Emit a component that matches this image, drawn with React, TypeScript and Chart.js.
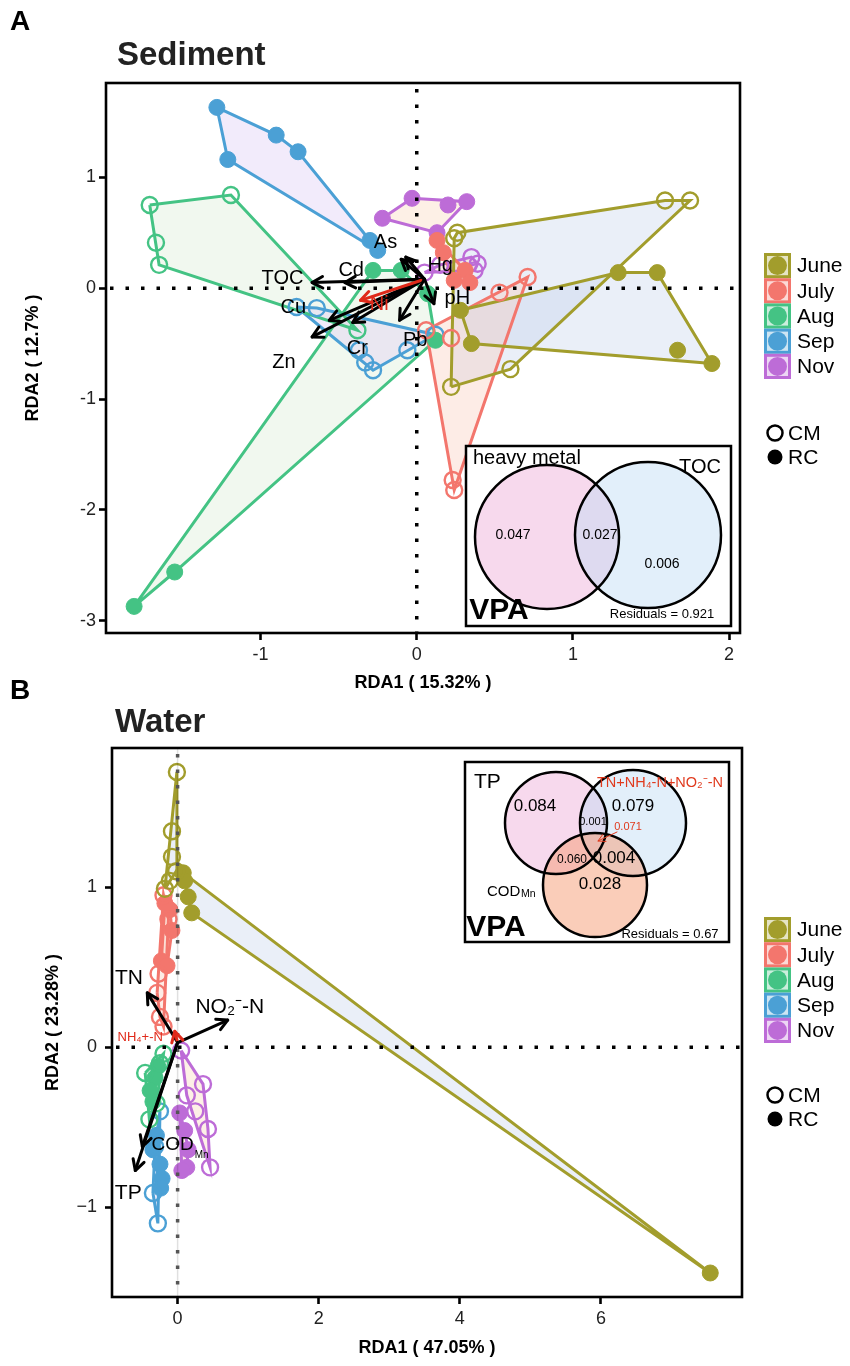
import React, { useEffect, useRef } from "react";
import { Chart, registerables } from "chart.js";

Chart.register(...registerables);

const FONT = "'Liberation Sans', Arial, Helvetica, sans-serif";

// ---------------- shared legend data ----------------
const months = ["June", "July", "Aug", "Sep", "Nov"];
const monthColors = ["#A29D2C", "#F3766D", "#44C384", "#4BA0D5", "#BD6CD7"];
const hullFills = [
  "rgba(196,210,236,0.35)",
  "rgba(250,200,182,0.35)",
  "rgba(214,236,210,0.35)",
  "rgba(222,206,246,0.40)",
  "rgba(250,222,200,0.45)",
];
const siteTypes = ["CM", "RC"];

// ---------------- A: Sediment ----------------
const sedXTicks = [-1, 0, 1, 2];
const sedYTicks = [-3, -2, -1, 0, 1];
const sedJuneCM = [[0.26, 0.5], [0.24, 0.45], [1.59, 0.79], [1.75, 0.79], [0.6, -0.73], [0.22, -0.89]];
const sedJuneRC = [[0.28, -0.2], [1.29, 0.14], [1.54, 0.14], [1.67, -0.56], [1.89, -0.68], [0.35, -0.5]];
const sedJulyCM = [[0.71, 0.1], [0.53, -0.04], [0.22, -0.45], [0.23, -1.73], [0.24, -1.82], [0.06, -0.38]];
const sedJulyRC = [[0.13, 0.43], [0.17, 0.32], [0.31, 0.16], [0.34, 0.05], [0.24, 0.07]];
const sedAugCM = [[-1.71, 0.75], [-1.19, 0.84], [-1.67, 0.41], [-1.65, 0.21], [-0.38, -0.38]];
const sedAugRC = [[-1.81, -2.87], [-1.55, -2.56], [0.12, -0.47], [0.07, -0.05], [-0.1, 0.16], [-0.28, 0.16]];
const sedSepCM = [[-0.77, -0.17], [-0.64, -0.18], [-0.37, -0.56], [-0.33, -0.67], [-0.28, -0.74], [-0.06, -0.56], [0.12, -0.42]];
const sedSepRC = [[-1.28, 1.63], [-0.9, 1.38], [-0.76, 1.23], [-1.21, 1.16], [-0.3, 0.43], [-0.25, 0.34]];
const sedNovCM = [[0.05, 0.14], [0.35, 0.28], [0.39, 0.22], [0.37, 0.16], [0.15, 0.21]];
const sedNovRC = [[-0.22, 0.63], [-0.03, 0.81], [0.2, 0.75], [0.32, 0.78], [0.13, 0.5]];
const sedArrowNames = ["TOC", "Cd", "Cu", "Zn", "Cr", "Ni", "As", "Hg", "pH", "Pb"];
const sedArrowX = [-0.67, -0.46, -0.56, -0.67, -0.41, -0.36, -0.1, -0.07, 0.11, -0.11];
const sedArrowY = [0.05, 0.05, -0.29, -0.44, -0.31, -0.11, 0.26, 0.28, -0.14, -0.29];
const sedLabelX = [-0.86, -0.42, -0.79, -0.85, -0.38, -0.24, -0.2, 0.15, 0.26, -0.01];
const sedLabelY = [0.09, 0.16, -0.17, -0.67, -0.54, -0.15, 0.41, 0.2, -0.09, -0.47];
const sedArrowColors = ["#000", "#000", "#000", "#000", "#000", "#E02A1A", "#000", "#000", "#000", "#000"];
const sedLabelSizes = [20, 20, 20, 20, 20, 20, 20, 20, 20, 20];
const sedArrowOrigin = [0.05, 0.08];

// ---------------- B: Water ----------------
const watXTicks = [0, 2, 4, 6];
const watYTicks = [-1, 0, 1];
const watJuneCM = [[-0.01, 1.72], [-0.08, 1.35], [-0.08, 1.19], [-0.11, 1.04], [-0.18, 0.99], [-0.02, 1.1]];
const watJuneRC = [[0.08, 1.09], [0.1, 1.04], [0.15, 0.94], [0.2, 0.84], [7.55, -1.41]];
const watJulyCM = [[-0.2, 0.95], [-0.13, 0.8], [-0.27, 0.46], [-0.29, 0.34], [-0.25, 0.19], [-0.2, 0.13]];
const watJulyRC = [[-0.18, 0.9], [-0.11, 0.86], [-0.08, 0.73], [-0.23, 0.54], [-0.15, 0.51]];
const watAugCM = [[-0.2, -0.04], [-0.46, -0.16], [-0.25, -0.1], [-0.3, -0.35], [-0.4, -0.45]];
const watAugRC = [[-0.28, -0.12], [-0.32, -0.19], [-0.39, -0.27], [-0.35, -0.34]];
const watSepCM = [[-0.25, -0.4], [-0.32, -0.62], [-0.35, -0.91], [-0.28, -1.1]];
const watSepRC = [[-0.3, -0.55], [-0.35, -0.64], [-0.25, -0.73], [-0.22, -0.82], [-0.24, -0.88]];
const watNovCM = [[0.05, -0.02], [0.36, -0.23], [0.13, -0.3], [0.25, -0.4], [0.43, -0.51], [0.46, -0.75]];
const watNovRC = [[0.03, -0.41], [0.1, -0.52], [0.15, -0.64], [0.13, -0.75], [0.06, -0.77]];
const watArrowNames = ["TN", "NO₂⁻-N", "NH₄+-N", "COD", "TP"];
const watArrowSub = ["", "", "", "Mn", ""];
const watArrowX = [-0.43, 0.71, -0.04, -0.5, -0.6];
const watArrowY = [0.34, 0.17, 0.1, -0.62, -0.77];
const watLabelX = [-0.69, 0.74, -0.53, -0.07, -0.7];
const watLabelY = [0.43, 0.25, 0.06, -0.61, -0.91];
const watArrowColors = ["#000", "#000", "#E02A1A", "#000", "#000"];
const watLabelSizes = [21, 21, 13, 19, 21];
const watArrowOrigin = [0, 0.03];

// ---------------- VPA values ----------------
const vpaSedLabels = ["heavy metal", "TOC"];
const vpaSedValues = ["0.047", "0.027", "0.006"];
const vpaSedResidual = "Residuals = 0.921";
const vpaWatLabels = ["TP", "TN+NH₄-N+NO₂⁻-N", "COD"];
const vpaWatValues = ["0.084", "0.079", "0.001", "0.071", "0.060", "0.004", "0.028"];
const vpaWatResidual = "Residuals = 0.67";

// ---------------- helpers ----------------
function convexHull(pts: number[][]) {
  const p = pts.slice().sort((a, b) => (a[0] === b[0] ? a[1] - b[1] : a[0] - b[0]));
  if (p.length < 3) return p;
  const cross = (o: number[], a: number[], b: number[]) =>
    (a[0] - o[0]) * (b[1] - o[1]) - (a[1] - o[1]) * (b[0] - o[0]);
  const lower: number[][] = [];
  for (const q of p) {
    while (lower.length >= 2 && cross(lower[lower.length - 2], lower[lower.length - 1], q) <= 0) lower.pop();
    lower.push(q);
  }
  const upper: number[][] = [];
  for (let i = p.length - 1; i >= 0; i--) {
    const q = p[i];
    while (upper.length >= 2 && cross(upper[upper.length - 2], upper[upper.length - 1], q) <= 0) upper.pop();
    upper.push(q);
  }
  upper.pop();
  lower.pop();
  return lower.concat(upper);
}

function buildDatasets(cm: number[][][], rc: number[][][]) {
  const ds: any[] = [];
  months.forEach((m, i) => {
    [cm[i], rc[i]].forEach((pts, k) => {
      const hull = convexHull(pts);
      ds.push({
        type: "scatter",
        label: `${m} ${siteTypes[k]} hull`,
        data: [...hull, hull[0]].map(([x, y]) => ({ x, y })),
        showLine: true,
        borderColor: monthColors[i],
        borderWidth: 3,
        pointRadius: 0,
        pointHoverRadius: 0,
        fill: false,
        order: 2,
        hullFill: hullFills[i],
      });
      ds.push({
        type: "scatter",
        label: `${m} ${siteTypes[k]}`,
        data: pts.map(([x, y]) => ({ x, y })),
        pointRadius: 8,
        pointHoverRadius: 8,
        pointBorderWidth: k === 0 ? 2.4 : 1,
        borderColor: monthColors[i],
        backgroundColor: k === 0 ? "rgba(255,255,255,0)" : monthColors[i],
        showLine: false,
        order: 1,
      });
    });
  });
  return ds;
}

function drawArrow(ctx: CanvasRenderingContext2D, x0: number, y0: number, x1: number, y1: number, color: string, lw: number) {
  ctx.save();
  ctx.strokeStyle = color;
  ctx.lineWidth = lw;
  ctx.lineCap = "round";
  ctx.lineJoin = "round";
  ctx.beginPath();
  ctx.moveTo(x0, y0);
  ctx.lineTo(x1, y1);
  ctx.stroke();
  const a = Math.atan2(y1 - y0, x1 - x0);
  const h = lw > 2 ? 12 : 8;
  ctx.beginPath();
  ctx.moveTo(x1 - h * Math.cos(a - 0.5), y1 - h * Math.sin(a - 0.5));
  ctx.lineTo(x1, y1);
  ctx.lineTo(x1 - h * Math.cos(a + 0.5), y1 - h * Math.sin(a + 0.5));
  ctx.stroke();
  ctx.restore();
}

function text(ctx: CanvasRenderingContext2D, s: string, x: number, y: number, size: number, opts: any = {}) {
  ctx.save();
  ctx.font = `${opts.bold ? "bold " : ""}${size}px ${FONT}`;
  ctx.fillStyle = opts.color || "#000";
  ctx.textAlign = opts.align || "center";
  ctx.textBaseline = "middle";
  ctx.fillText(s, x, y);
  ctx.restore();
}

function drawLegend(ctx: CanvasRenderingContext2D, top: number, cmY: number) {
  const x0 = 764;
  const w = 27;
  const h = 25.2;
  months.forEach((m, i) => {
    const y = top + i * h;
    ctx.save();
    ctx.fillStyle = monthColors[i];
    ctx.fillRect(x0, y, w, h);
    ctx.fillStyle = "rgba(255,255,255,0.72)";
    ctx.fillRect(x0 + 3, y + 3, w - 6, h - 6);
    ctx.fillStyle = monthColors[i];
    ctx.beginPath();
    ctx.arc(x0 + w / 2, y + h / 2, 9.5, 0, Math.PI * 2);
    ctx.fill();
    ctx.restore();
    text(ctx, m, 797, y + h / 2 + 1, 21, { align: "left" });
  });
  siteTypes.forEach((s, k) => {
    const y = cmY + k * 24;
    ctx.save();
    ctx.beginPath();
    ctx.arc(775, y, 7.5, 0, Math.PI * 2);
    if (k === 0) {
      ctx.strokeStyle = "#000";
      ctx.lineWidth = 2.5;
      ctx.stroke();
    } else {
      ctx.fillStyle = "#000";
      ctx.fill();
    }
    ctx.restore();
    text(ctx, s, 788, y + 1, 21, { align: "left" });
  });
}

function circle(ctx: CanvasRenderingContext2D, x: number, y: number, r: number, fill: string | null) {
  ctx.beginPath();
  ctx.arc(x, y, r, 0, Math.PI * 2);
  if (fill) {
    ctx.fillStyle = fill;
    ctx.fill();
  }
}

function drawVennSed(ctx: CanvasRenderingContext2D) {
  ctx.save();
  ctx.fillStyle = "#fff";
  ctx.fillRect(466, 446, 265, 180);
  circle(ctx, 547, 537, 72, "rgba(240,180,220,0.5)");
  circle(ctx, 648, 535, 73, "rgba(190,220,245,0.45)");
  ctx.strokeStyle = "#000";
  ctx.lineWidth = 2.5;
  circle(ctx, 547, 537, 72, null);
  ctx.stroke();
  circle(ctx, 648, 535, 73, null);
  ctx.stroke();
  ctx.strokeRect(466, 446, 265, 180);
  ctx.restore();
  text(ctx, vpaSedLabels[0], 473, 458, 20, { align: "left" });
  text(ctx, vpaSedLabels[1], 700, 467, 20);
  text(ctx, vpaSedValues[0], 513, 535, 14);
  text(ctx, vpaSedValues[1], 600, 535, 14);
  text(ctx, vpaSedValues[2], 662, 564, 14);
  text(ctx, "VPA", 499, 611, 30, { bold: true });
  text(ctx, vpaSedResidual, 662, 614, 13);
}

function drawVennWat(ctx: CanvasRenderingContext2D, dy: number) {
  ctx.save();
  ctx.translate(0, -dy);
  ctx.fillStyle = "#fff";
  ctx.fillRect(465, 762, 264, 180);
  circle(ctx, 556, 823, 51, "rgba(240,180,220,0.5)");
  circle(ctx, 633, 823, 53, "rgba(190,220,245,0.45)");
  circle(ctx, 595, 885, 52, "rgba(245,155,115,0.5)");
  ctx.strokeStyle = "#000";
  ctx.lineWidth = 2.5;
  [[556, 823, 51], [633, 823, 53], [595, 885, 52]].forEach(([x, y, r]) => {
    circle(ctx, x, y, r, null);
    ctx.stroke();
  });
  ctx.strokeRect(465, 762, 264, 180);
  text(ctx, vpaWatLabels[0], 474, 782, 21, { align: "left" });
  text(ctx, vpaWatLabels[1], 660, 783, 14.5, { color: "#E03A1E" });
  text(ctx, vpaWatValues[0], 535, 806, 17);
  text(ctx, vpaWatValues[1], 633, 806, 17);
  text(ctx, vpaWatValues[2], 593, 822, 11);
  text(ctx, vpaWatValues[3], 628, 827, 11, { color: "#E03A1E" });
  drawArrow(ctx, 617, 832, 598, 841, "#E03A1E", 1);
  text(ctx, vpaWatValues[4], 572, 860, 12);
  text(ctx, vpaWatValues[5], 614, 858, 17);
  text(ctx, vpaWatValues[6], 600, 884, 17);
  text(ctx, vpaWatLabels[2], 487, 892, 15, { align: "left" });
  text(ctx, "Mn", 521, 894, 10.5, { align: "left" });
  text(ctx, "VPA", 496, 928, 30, { bold: true });
  text(ctx, vpaWatResidual, 670, 934, 13);
  ctx.restore();
}

function panelPlugin(opts: any) {
  return {
    id: "panel" + opts.letter,
    beforeDatasetsDraw(chart: any) {
      const { ctx, chartArea: ca } = chart;
      const xs = chart.scales.x;
      const ys = chart.scales.y;
      ctx.save();
      ctx.beginPath();
      ctx.rect(ca.left, ca.top, ca.right - ca.left, ca.bottom - ca.top);
      ctx.clip();
      chart.data.datasets.forEach((d: any) => {
        if (!d.hullFill) return;
        ctx.beginPath();
        d.data.forEach((p: any, i: number) => {
          const px = xs.getPixelForValue(p.x);
          const py = ys.getPixelForValue(p.y);
          if (i === 0) ctx.moveTo(px, py);
          else ctx.lineTo(px, py);
        });
        ctx.closePath();
        ctx.fillStyle = d.hullFill;
        ctx.fill();
      });
      ctx.restore();
    },
    afterDatasetsDraw(chart: any) {
      const { ctx, chartArea: ca } = chart;
      const xs = chart.scales.x;
      const ys = chart.scales.y;
      const x0 = xs.getPixelForValue(0);
      const y0 = ys.getPixelForValue(0);
      ctx.save();
      if (opts.vGray) {
        ctx.strokeStyle = "rgba(0,0,0,0.12)";
        ctx.lineWidth = 1.5;
        ctx.beginPath();
        ctx.moveTo(x0, ca.top);
        ctx.lineTo(x0, ca.bottom);
        ctx.stroke();
      }
      ctx.setLineDash([3.5, 12]);
      ctx.lineWidth = 3.5;
      ctx.strokeStyle = opts.vGray ? "#555" : "#000";
      ctx.beginPath();
      ctx.moveTo(x0, ca.top + 6);
      ctx.lineTo(x0, ca.bottom);
      ctx.stroke();
      ctx.strokeStyle = "#000";
      ctx.beginPath();
      ctx.moveTo(ca.left + 4, y0);
      ctx.lineTo(ca.right, y0);
      ctx.stroke();
      ctx.restore();
      // arrows
      const ox = xs.getPixelForValue(opts.origin[0]);
      const oy = ys.getPixelForValue(opts.origin[1]);
      opts.arrowX.forEach((ax: number, i: number) => {
        drawArrow(ctx, ox, oy, xs.getPixelForValue(ax), ys.getPixelForValue(opts.arrowY[i]), opts.arrowColors[i], 3);
      });
      opts.names.forEach((n: string, i: number) => {
        const lx = xs.getPixelForValue(opts.labelX[i]);
        const ly = ys.getPixelForValue(opts.labelY[i]);
        const size = opts.labelSizes[i];
        text(ctx, n, lx, ly, size, { color: opts.arrowColors[i] });
        if (opts.subs && opts.subs[i]) {
          ctx.save();
          ctx.font = `${size}px ${FONT}`;
          const w = ctx.measureText(n).width;
          ctx.restore();
          text(ctx, opts.subs[i], lx + w / 2 + 1, ly + 10, 10, { align: "left", color: opts.arrowColors[i] });
        }
      });
    },
    afterDraw(chart: any) {
      const { ctx, chartArea: ca } = chart;
      ctx.save();
      ctx.strokeStyle = "#000";
      ctx.lineWidth = 2.6;
      ctx.strokeRect(ca.left, ca.top, ca.right - ca.left, ca.bottom - ca.top);
      ctx.restore();
      text(ctx, opts.letter, 20, opts.letterY, 28, { bold: true });
      text(ctx, opts.title, opts.titleX, opts.titleY, 33, { bold: true, align: "left", color: "#222" });
      drawLegend(ctx, opts.legendTop, opts.cmY);
      opts.venn(ctx);
    },
  };
}

function makeConfig(p: any) {
  const tickFmt = (v: number) => (v < 0 ? p.minus + Math.abs(v) : String(v));
  const axisCommon = {
    type: "linear",
    border: { display: false },
    grid: {
      display: true,
      drawOnChartArea: false,
      drawTicks: true,
      tickLength: 7,
      tickWidth: 2.6,
      color: "#000",
      tickColor: "#000",
    },
  };
  return {
    type: "scatter",
    data: { datasets: buildDatasets(p.cm, p.rc) },
    options: {
      animation: false,
      responsive: false,
      events: [],
      layout: { padding: { top: p.padTop, right: p.padRight, bottom: 0, left: 0 } },
      plugins: { legend: { display: false }, tooltip: { enabled: false }, title: { display: false } },
      scales: {
        x: {
          ...axisCommon,
          position: "bottom",
          min: p.xMin,
          max: p.xMax,
          afterBuildTicks: (s: any) => {
            s.ticks = p.xTicks.map((v: number) => ({ value: v }));
          },
          afterFit: (s: any) => {
            s.height = p.xAxisH;
          },
          ticks: { font: { size: 18, family: FONT }, color: "#222", padding: 4, callback: tickFmt },
          title: {
            display: true,
            text: p.xTitle,
            color: "#000",
            font: { size: 18, weight: "bold", family: FONT },
            padding: { top: 0, bottom: p.xTitlePad },
          },
        },
        y: {
          ...axisCommon,
          position: "left",
          min: p.yMin,
          max: p.yMax,
          afterBuildTicks: (s: any) => {
            s.ticks = p.yTicks.map((v: number) => ({ value: v }));
          },
          afterFit: (s: any) => {
            s.width = p.yAxisW;
          },
          ticks: { font: { size: 18, family: FONT }, color: "#222", padding: p.yTickPad, callback: tickFmt },
          title: {
            display: true,
            text: p.yTitle,
            color: "#000",
            font: { size: 18, weight: "bold", family: FONT },
            padding: { top: p.yTitlePad, bottom: 0 },
          },
        },
      },
    },
    plugins: [panelPlugin(p.panel)],
  };
}

const configA = () =>
  makeConfig({
    cm: [sedJuneCM, sedJulyCM, sedAugCM, sedSepCM, sedNovCM],
    rc: [sedJuneRC, sedJulyRC, sedAugRC, sedSepRC, sedNovRC],
    xMin: -1.99,
    xMax: 2.07,
    yMin: -3.11,
    yMax: 1.85,
    xTicks: sedXTicks,
    yTicks: sedYTicks,
    minus: "-",
    padTop: 83,
    padRight: 110,
    xAxisH: 67,
    yAxisW: 106,
    xTitle: "RDA1 ( 15.32% )",
    yTitle: "RDA2 ( 12.7% )",
    xTitlePad: 6,
    yTitlePad: 22,
    yTickPad: 3,
    panel: {
      letter: "A",
      letterY: 22,
      title: "Sediment",
      titleX: 117,
      titleY: 56,
      legendTop: 253,
      cmY: 433,
      origin: sedArrowOrigin,
      arrowX: sedArrowX,
      arrowY: sedArrowY,
      arrowColors: sedArrowColors,
      names: sedArrowNames,
      labelX: sedLabelX,
      labelY: sedLabelY,
      labelSizes: sedLabelSizes,
      vGray: false,
      venn: (ctx: CanvasRenderingContext2D) => drawVennSed(ctx),
    },
  });

const B_TOP = 680;
const configB = () =>
  makeConfig({
    cm: [watJuneCM, watJulyCM, watAugCM, watSepCM, watNovCM],
    rc: [watJuneRC, watJulyRC, watAugRC, watSepRC, watNovRC],
    xMin: -0.93,
    xMax: 8.0,
    yMin: -1.56,
    yMax: 1.87,
    xTicks: watXTicks,
    yTicks: watYTicks,
    minus: "−",
    padTop: 68,
    padRight: 108,
    xAxisH: 69,
    yAxisW: 112,
    xTitle: "RDA1 ( 47.05% )",
    yTitle: "RDA2 ( 23.28% )",
    xTitlePad: 7,
    yTitlePad: 42,
    yTickPad: 8,
    panel: {
      letter: "B",
      letterY: 11,
      title: "Water",
      titleX: 115,
      titleY: 43,
      legendTop: 917 - B_TOP,
      cmY: 1095 - B_TOP,
      origin: watArrowOrigin,
      arrowX: watArrowX,
      arrowY: watArrowY,
      arrowColors: watArrowColors,
      names: watArrowNames,
      subs: watArrowSub,
      labelX: watLabelX,
      labelY: watLabelY,
      labelSizes: watLabelSizes,
      vGray: true,
      venn: (ctx: CanvasRenderingContext2D) => drawVennWat(ctx, B_TOP),
    },
  });

export default function App() {
  const refA = useRef<HTMLCanvasElement>(null);
  const refB = useRef<HTMLCanvasElement>(null);
  useEffect(() => {
    const a = new Chart(refA.current as HTMLCanvasElement, configA() as any);
    const b = new Chart(refB.current as HTMLCanvasElement, configB() as any);
    return () => {
      a.destroy();
      b.destroy();
    };
  }, []);
  return (
    <div style={{ position: "absolute", left: 0, top: 0, width: 850, height: 1366, background: "#fff" }}>
      <canvas ref={refA} width={850} height={700} style={{ position: "absolute", left: 0, top: 0, width: 850, height: 700 }} />
      <canvas ref={refB} width={850} height={686} style={{ position: "absolute", left: 0, top: B_TOP, width: 850, height: 686 }} />
    </div>
  );
}
